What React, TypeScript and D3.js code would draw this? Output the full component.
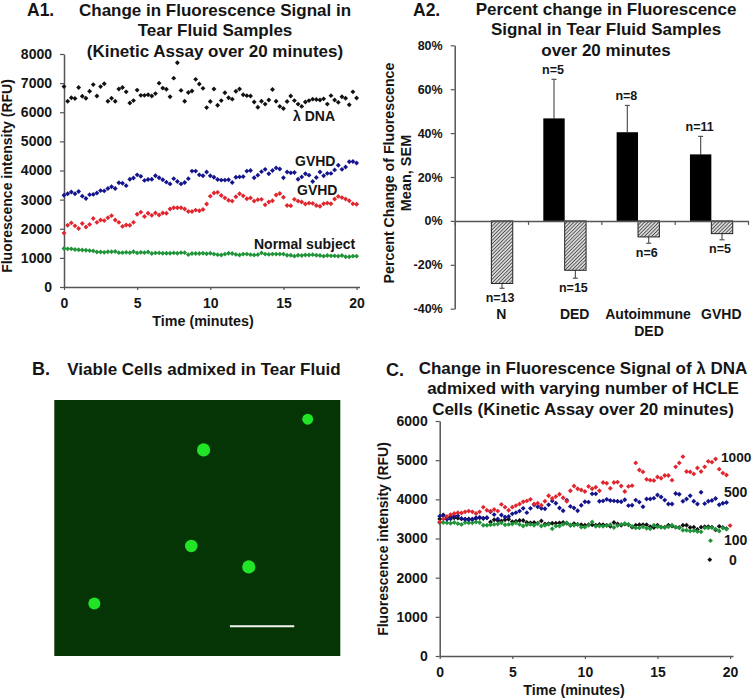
import { useEffect, useRef } from "react";
import * as d3 from "d3";

// A1 series, one reading every 15 seconds
const a1_lambda = [
  6880, 6380, 6500, 6470, 6850, 6550, 6480, 6720, 6950, 6560,
  6880, 6980, 6380, 6480, 6380, 6800, 6850, 6700, 6320, 6400,
  6760, 6580, 6580, 6600, 6560, 6640, 7000, 6830, 6790, 6530,
  7170, 7700, 6750, 6380, 6680, 6730, 7130, 6970, 6820, 6160,
  6370, 6800, 6240, 6400, 6670, 6500, 6450, 6720, 6800, 6600,
  6570, 6560, 6350, 6170, 6380, 6280, 6420, 6780, 6380, 6200,
  6130, 6370, 6560, 6400, 6280, 6200, 6350, 6400, 6450, 6440,
  6420, 6460, 6280, 6570, 6420, 6340, 6530, 6480, 6260, 6700,
  6490,
];
const a1_gvhd_blue = [
  3150, 3200, 3260, 3200, 3280, 3120, 3040, 3170, 3180, 3230,
  3310, 3300, 3380, 3440, 3380, 3580, 3560, 3480, 3700, 3740,
  3850, 3800, 3660, 3690, 3700, 3820, 3750, 3680, 3600, 3540,
  3720, 3620, 3540, 3590, 3720, 3980, 3980, 3850, 3820, 3950,
  3820, 3770, 3690, 3670, 3670, 3680, 3590, 3770, 3780, 3790,
  3980, 4000, 3750, 3840, 3960, 4040, 3890, 4000, 4090, 4050,
  3750, 3950, 3920, 3930, 3700, 3780, 3890, 3840, 3620, 3760,
  3950, 3820, 3900, 3900, 4020, 4180, 4040, 4120, 4300, 4310,
  4260,
];
const a1_gvhd_red = [
  1850, 2120, 2200, 2100, 2010, 2180, 2060, 2150, 2350, 2220,
  2300, 2280, 2380, 2450, 2300, 2220, 2080, 2130, 2120, 2220,
  2500, 2570, 2420, 2530, 2460, 2540, 2470, 2540, 2530, 2680,
  2720, 2720, 2720, 2680, 2590, 2590, 2640, 2620, 2660, 2850,
  3120, 3230, 3250, 3140, 3060, 2980, 2950, 3100, 3200, 3130,
  3030, 3060, 2950, 3000, 3010, 2820, 2920, 2960, 3160, 3210,
  3080, 2800, 2790, 3010, 2950, 2920, 2850, 2880, 2870, 2800,
  2770, 2860, 2880, 2860, 3020, 3110, 3070, 3020, 2960, 2860,
  2840,
];
const a1_normal = [
  1320, 1310, 1310, 1290, 1280, 1270, 1260, 1250, 1240, 1200,
  1200, 1190, 1210, 1210, 1220, 1180, 1180, 1190, 1180, 1210,
  1170, 1190, 1180, 1200, 1150, 1170, 1170, 1160, 1160, 1160,
  1170, 1160, 1180, 1180, 1110, 1150, 1150, 1150, 1160, 1140,
  1160, 1130, 1110, 1100, 1130, 1160, 1150, 1120, 1100, 1130,
  1130, 1110, 1100, 1110, 1170, 1130, 1120, 1130, 1130, 1130,
  1130, 1090, 1090, 1060, 1090, 1080, 1100, 1100, 1110, 1090,
  1080, 1060, 1080, 1070, 1070, 1060, 1080, 1040, 1040, 1060,
  1060,
];

// A2 bars
const a2_groups = ["N", "DED", "Autoimmune", "GVHD"];
const a2_positive = [0, 46.7, 40.4, 30.3];
const a2_positive_err = [0, 64.5, 52.6, 38.5];
const a2_positive_n = ["", "n=5", "n=8", "n=11"];
const a2_negative = [-28.5, -22.5, -7.3, -5.8];
const a2_negative_err = [-30.7, -26.1, -10.2, -8.6];
const a2_negative_n = ["n=13", "n=15", "n=6", "n=5"];
const a2_ticks = [-40, -20, 0, 20, 40, 60, 80];

// B micrograph, cell centres as fractions of the image
const cell_x = [0.886, 0.522, 0.479, 0.68, 0.14];
const cell_y = [0.075, 0.195, 0.57, 0.652, 0.795];
const cell_r = [0.019, 0.023, 0.022, 0.023, 0.021];

// C series
const c_1000 = [
  3420, 3500, 3560, 3610, 3640, 3660, 3650, 3680, 3700, 3680,
  3640, 3680, 3800, 3720, 3700, 3740, 3700, 3870, 3800, 3720,
  3800, 3840, 3880, 3940, 3960, 4000, 3880, 3900, 3850, 3950,
  4090, 4020, 4070, 4130, 4040, 3950, 4220, 4340, 4270, 4240,
  4200, 4330, 4270, 4310, 4220, 4430, 4410, 4280, 4430, 4440,
  4340, 4200, 4330, 4350, 4930, 4750, 4700, 4510, 4490, 4480,
  4570, 4540, 4610, 4610, 4490, 4830, 4930, 5090, 4710, 4700,
  4650, 4800, 4710, 4830, 4970, 4950, 5030, 4770, 4670, 4620,
  3330,
];
const c_500 = [
  3570, 3590, 3490, 3500, 3570, 3580, 3510, 3490, 3480, 3490,
  3530, 3530, 3520, 3530, 3680, 3610, 3500, 3600, 3550, 3560,
  3630, 3660, 3700, 3770, 3660, 3770, 3860, 3810, 3770, 3760,
  3860, 3960, 3900, 3780, 3710, 3980, 3820, 3780, 3710, 3850,
  3940, 3930, 4140, 4140, 3950, 3960, 4000, 3970, 3960, 3950,
  3940, 3990, 3840, 3850, 3980, 3930, 3810, 4010, 4010, 4030,
  4110, 4060, 3980, 3880, 3880, 4150, 4130, 3950, 4010, 4090,
  3950, 3880, 4180, 3890, 3950, 3970, 4020, 3860, 3900, 3920,
];
const c_0 = [
  3500, 3600, 3540, 3560, 3530, 3520, 3500, 3490, 3500, 3490,
  3510, 3540, 3510, 3530, 3420, 3480, 3460, 3450, 3480, 3490,
  3430, 3440, 3460, 3460, 3410, 3400, 3410, 3390, 3450, 3370,
  3380, 3390, 3390, 3400, 3410, 3390, 3340, 3380, 3360, 3350,
  3340, 3350, 3350, 3340, 3360, 3350, 3340, 3310, 3410, 3370,
  3340, 3370, 3350, 3290, 3340, 3350, 3350, 3350, 3300, 3280,
  3340, 3290, 3290, 3340, 3320, 3290, 3280, 3340, 3340, 3280,
  3290, 3230, 3290, 3300, 3300, 3290, 3220, 3310, 3280, 3250,
];
const c_100 = [
  3400, 3410, 3400, 3390, 3410, 3380, 3360, 3410, 3400, 3400,
  3420, 3410, 3340, 3340, 3350, 3360, 3370, 3400, 3350, 3360,
  3370, 3400, 3360, 3320, 3350, 3360, 3340, 3380, 3320, 3340,
  3360, 3250, 3320, 3320, 3360, 3400, 3340, 3340, 3360, 3290,
  3290, 3340, 3420, 3310, 3320, 3310, 3330, 3350, 3280, 3330,
  3360, 3380, 3360, 3310, 3270, 3270, 3300, 3260, 3250, 3340,
  3300, 3290, 3280, 3300, 3340, 3290, 3270, 3210, 3210, 3190,
  3200, 3180, 3170, 3270, 3270, 3280, 3240, 3190, 3270, 3240,
];
const c_key_times = [18.65, 18.6];
const c_key_values = [2945, 2460];

const time_ticks = [0, 5, 10, 15, 20];
const a1_ticks = [0, 1000, 2000, 3000, 4000, 5000, 6000, 7000, 8000];
const c_ticks = [0, 1000, 2000, 3000, 4000, 5000, 6000];

const BLACK = "#111111";
const BLUE = "#14148c";
const RED = "#e0262e";
const GREEN = "#1f9438";
const FONT = "'Liberation Sans', Arial, sans-serif";

type Sel = d3.Selection<SVGGElement, unknown, null, undefined>;

const addText = (
  g: Sel,
  str: string,
  x: number,
  y: number,
  size: number,
  anchor = "start",
  rotate = false
) =>
  g
    .append("text")
    .attr("transform", `translate(${x},${y})${rotate ? " rotate(-90)" : ""}`)
    .attr("text-anchor", anchor)
    .attr("font-size", size)
    .attr("font-weight", "bold")
    .attr("fill", "#151515")
    .text(str);

// Excel style axis: thick grey line, outward ticks, bold labels
const styleAxis = (axis: Sel, size: number) => {
  axis.selectAll(".domain").attr("stroke", "#555").attr("stroke-width", 1.5);
  axis.selectAll("line").attr("stroke", "#555").attr("stroke-width", 1.2);
  axis
    .selectAll("text")
    .attr("font-size", size)
    .attr("font-weight", "bold")
    .attr("font-family", FONT)
    .attr("fill", "#151515");
};

// squat diamonds: d3's own symbolDiamond is too tall for these markers
const marker = d3.symbol(d3.symbolSquare, 12);

const drawDots = (
  g: Sel,
  values: number[],
  color: string,
  x: d3.ScaleLinear<number, number>,
  y: d3.ScaleLinear<number, number>
) => {
  g.append("g")
    .selectAll("path")
    .data(values)
    .join("path")
    .attr("d", marker as any)
    .attr("fill", color)
    .attr("transform", (d, i) => `translate(${x(i * 0.25)},${y(d)}) rotate(45)`);
};

const drawTimeAxes = (
  g: Sel,
  x: d3.ScaleLinear<number, number>,
  y: d3.ScaleLinear<number, number>,
  y_ticks: number[]
) => {
  const x_axis = g
    .append("g")
    .attr("transform", `translate(0,${y.range()[0]})`)
    .call(
      d3
        .axisBottom(x)
        .tickValues(time_ticks)
        .tickSize(3)
        .tickSizeOuter(0)
        .tickPadding(8)
    );
  styleAxis(x_axis, 14);

  const y_axis = g
    .append("g")
    .attr("transform", `translate(${x.range()[0]},0)`)
    .call(
      d3
        .axisLeft(y)
        .tickValues(y_ticks)
        .tickFormat(d3.format("d") as any)
        .tickSize(4)
        .tickSizeOuter(0)
        .tickPadding(8)
    );
  styleAxis(y_axis, 14);
};

export default function App() {
  const chart_ref = useRef<SVGSVGElement | null>(null);

  useEffect(() => {
    if (!chart_ref.current) return;
    const svgElement = d3.select(chart_ref.current);
    svgElement.selectAll("*").remove();
    const svg = svgElement.append("g") as unknown as Sel;
    svg.attr("font-family", FONT);

    // ---- A1 ----
    const a1_x = d3.scaleLinear().domain([0, 20.2]).range([64, 359.5]);
    const a1_y = d3.scaleLinear().domain([0, 8000]).range([287, 54]);
    drawTimeAxes(svg, a1_x, a1_y, a1_ticks);
    drawDots(svg, a1_lambda, BLACK, a1_x, a1_y);
    drawDots(svg, a1_gvhd_blue, BLUE, a1_x, a1_y);
    drawDots(svg, a1_gvhd_red, RED, a1_x, a1_y);
    drawDots(svg, a1_normal, GREEN, a1_x, a1_y);

    addText(svg, "A1.", 27, 16, 17.5);
    addText(svg, "Change in Fluorescence Signal in", 215, 15.5, 17, "middle");
    addText(svg, "Tear Fluid Samples", 215, 35.5, 17, "middle");
    addText(svg, "(Kinetic Assay over 20 minutes)", 215, 57, 17, "middle");
    addText(svg, "Fluorescence intensity (RFU)", 12, 176, 14, "middle", true);
    addText(svg, "Time (minutes)", 203, 326, 14.3, "middle");
    addText(svg, "λ DNA", 293, 121, 14);
    addText(svg, "GVHD", 295, 166, 14);
    addText(svg, "GVHD", 297, 195, 14);
    addText(svg, "Normal subject", 254, 249, 14);

    // ---- A2 ----
    const a2_y = d3.scaleLinear().domain([-40, 80]).range([308.7, 45.3]);
    const a2_x = d3
      .scaleBand()
      .domain(a2_groups)
      .range([454.7, 748])
      .paddingInner(0)
      .paddingOuter(0);
    const a2_inner = d3
      .scaleBand()
      .domain(["positive", "negative"])
      .range([0, a2_x.bandwidth()])
      .paddingInner(0)
      .paddingOuter(0.715);

    const defs = svg.append("defs");
    const hatch = defs
      .append("pattern")
      .attr("id", "hatch")
      .attr("width", 2.5)
      .attr("height", 2.5)
      .attr("patternUnits", "userSpaceOnUse")
      .attr("patternTransform", "rotate(45)");
    hatch.append("rect").attr("width", 2.5).attr("height", 2.5).attr("fill", "#d8d8d8");
    hatch
      .append("line")
      .attr("x1", 0)
      .attr("x2", 0)
      .attr("y1", 0)
      .attr("y2", 2.5)
      .attr("stroke", "#333")
      .attr("stroke-width", 1.4);

    // error bars go under the bars
    const whisker = (
      values: number[],
      ends: number[],
      key: string,
      stroke: string
    ) => {
      a2_groups.forEach((group, i) => {
        if (values[i] === 0) return;
        const cx = (a2_x(group) as number) + (a2_inner(key) as number) + a2_inner.bandwidth() / 2;
        svg
          .append("line")
          .attr("x1", cx)
          .attr("x2", cx)
          .attr("y1", a2_y(values[i]))
          .attr("y2", a2_y(ends[i]))
          .attr("stroke", stroke)
          .attr("stroke-width", 1.2);
        svg
          .append("line")
          .attr("x1", cx - 2.5)
          .attr("x2", cx + 2.5)
          .attr("y1", a2_y(ends[i]))
          .attr("y2", a2_y(ends[i]))
          .attr("stroke", stroke)
          .attr("stroke-width", 1.2);
      });
    };
    whisker(a2_positive, a2_positive_err, "positive", "#555");
    whisker(a2_negative, a2_negative_err, "negative", "#555");

    svg
      .append("g")
      .selectAll("rect")
      .data(a2_groups.filter((_, i) => a2_positive[i] !== 0))
      .join("rect")
      .attr("x", (d) => (a2_x(d) as number) + (a2_inner("positive") as number))
      .attr("y", (d) => a2_y(a2_positive[a2_groups.indexOf(d)]))
      .attr("width", a2_inner.bandwidth())
      .attr("height", (d) => a2_y(0) - a2_y(a2_positive[a2_groups.indexOf(d)]))
      .attr("fill", "#000");

    svg
      .append("g")
      .selectAll("rect")
      .data(a2_groups)
      .join("rect")
      .attr("x", (d) => (a2_x(d) as number) + (a2_inner("negative") as number))
      .attr("y", a2_y(0))
      .attr("width", a2_inner.bandwidth())
      .attr("height", (d) => a2_y(a2_negative[a2_groups.indexOf(d)]) - a2_y(0))
      .attr("fill", "url(#hatch)")
      .attr("stroke", "#222")
      .attr("stroke-width", 1);

    const a2_y_axis = svg
      .append("g")
      .attr("transform", `translate(${a2_x.range()[0]},0)`)
      .call(
        d3
          .axisLeft(a2_y)
          .tickValues(a2_ticks)
          .tickFormat((d) => `${d}%`)
          .tickSize(4)
          .tickSizeOuter(0)
          .tickPadding(8)
      );
    styleAxis(a2_y_axis, 12.5);

    const a2_x_axis = svg
      .append("g")
      .attr("transform", `translate(0,${a2_y(0)})`)
      .call(
        d3
          .axisBottom(
            d3
              .scaleLinear()
              .domain([0, a2_groups.length])
              .range(a2_x.range() as [number, number])
          )
          .ticks(a2_groups.length)
          .tickFormat(() => "")
          .tickSize(4)
          .tickSizeOuter(0)
      );
    styleAxis(a2_x_axis, 12);

    a2_groups.forEach((group, i) => {
      const start = a2_x(group) as number;
      const pos_x = start + (a2_inner("positive") as number) + a2_inner.bandwidth() / 2;
      const neg_x = start + (a2_inner("negative") as number) + a2_inner.bandwidth() / 2;
      if (a2_positive_n[i]) {
        addText(svg, a2_positive_n[i], pos_x - 1, a2_y(a2_positive_err[i]) - 5, 12.5, "middle");
      }
      addText(svg, a2_negative_n[i], neg_x - 2, a2_y(a2_negative_err[i]) + 13.5, 12.5, "middle");
      addText(svg, group, start + a2_x.bandwidth() / 2 + 10, 319, 14, "middle");
    });
    addText(svg, "DED", (a2_x("Autoimmune") as number) + a2_x.bandwidth() / 2 + 11, 336, 14, "middle");

    addText(svg, "A2.", 413, 16, 17.5);
    addText(svg, "Percent change in Fluorescence", 606, 15, 17, "middle");
    addText(svg, "Signal in Tear Fluid Samples", 606, 35, 17, "middle");
    addText(svg, "over 20 minutes", 606, 56, 17, "middle");
    addText(svg, "Percent Change of Fluorescence", 394, 173, 14.2, "middle", true);
    addText(svg, "Mean, SEM", 411, 173, 14.5, "middle", true);

    // ---- B ----
    const b_x = d3.scaleLinear().domain([0, 1]).range([54.3, 340.3]);
    const b_y = d3.scaleLinear().domain([0, 1]).range([400, 656]);
    const glow = defs.append("filter").attr("id", "soft");
    glow.append("feGaussianBlur").attr("stdDeviation", 0.7);
    svg
      .append("rect")
      .attr("x", b_x(0))
      .attr("y", b_y(0))
      .attr("width", b_x(1) - b_x(0))
      .attr("height", b_y(1) - b_y(0))
      .attr("fill", "#053505");
    svg
      .append("g")
      .selectAll("circle")
      .data(cell_x)
      .join("circle")
      .attr("cx", (d) => b_x(d))
      .attr("cy", (_, i) => b_y(cell_y[i]))
      .attr("r", (_, i) => cell_r[i] * (b_x(1) - b_x(0)))
      .attr("fill", "#20e428")
      .attr("filter", "url(#soft)");
    svg
      .append("line")
      .attr("x1", b_x(0.614))
      .attr("x2", b_x(0.839))
      .attr("y1", b_y(0.884))
      .attr("y2", b_y(0.884))
      .attr("stroke", "#f4f4f0")
      .attr("stroke-width", 2);
    addText(svg, "B.", 32, 375, 18);
    addText(svg, "Viable Cells admixed in Tear Fluid", 204, 375, 17, "middle");

    // ---- C ----
    const c_x = d3.scaleLinear().domain([0, 20.2]).range([439.7, 733]);
    const c_y = d3.scaleLinear().domain([0, 6000]).range([656, 421]);
    drawTimeAxes(svg, c_x, c_y, c_ticks);
    drawDots(svg, c_0, BLACK, c_x, c_y);
    drawDots(svg, c_100, GREEN, c_x, c_y);
    drawDots(svg, c_500, BLUE, c_x, c_y);
    drawDots(svg, c_1000, RED, c_x, c_y);
    [GREEN, BLACK].forEach((color, i) => {
      svg
        .append("path")
        .attr("d", marker as any)
        .attr("fill", color)
        .attr("transform", `translate(${c_x(c_key_times[i])},${c_y(c_key_values[i])}) rotate(45)`);
    });

    addText(svg, "C.", 386, 376, 18);
    addText(svg, "Change in Fluorescence Signal of λ DNA", 583, 374, 17, "middle");
    addText(svg, "admixed with varying number of HCLE", 583, 394, 17, "middle");
    addText(svg, "Cells (Kinetic Assay over 20 minutes)", 583, 415, 17, "middle");
    addText(svg, "Fluorescence intensity (RFU)", 388, 539, 14, "middle", true);
    addText(svg, "Time (minutes)", 574, 695, 14.3, "middle");
    addText(svg, "1000", 721, 462, 13.7);
    addText(svg, "500", 724, 497, 14);
    addText(svg, "100", 724, 545, 14);
    addText(svg, "0", 729, 565, 14);
  }, []);

  return (
    <svg
      ref={chart_ref}
      width={752}
      height={699}
      style={{ position: "absolute", left: 0, top: 0, background: "#fff" }}
    ></svg>
  );
}
